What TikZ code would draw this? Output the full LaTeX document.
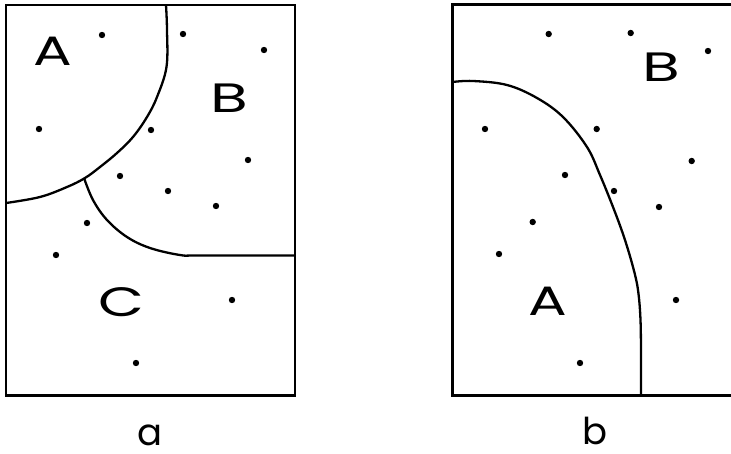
\documentclass[tikz,border=0pt]{standalone}
\usepackage{fontspec}
\setmainfont{Poppins}
\begin{document}
\begin{tikzpicture}[x=1pt,y=-1pt,
  frame/.style={line width=2.4pt},
  border/.style={line width=2.3pt, smooth, tension=0.6},
  dot/.style={fill=black},
  region/.style={inner sep=0pt, font=\fontsize{41}{41}\selectfont},
  caption/.style={inner sep=0pt, font=\fontsize{37}{37}\selectfont}]
\useasboundingbox (0,0) rectangle (731,454);
% ---------- panel a ----------
\draw[frame] (6,5) rectangle (295,395.5);
\draw[border] plot coordinates {(166,5) (167,30) (166.5,67) (157,97) (147,117) (133,137) (117,153) (100,167) (85,178) (67,187) (40,197) (6,203)};
\draw[border] plot coordinates {(84,178) (93,200) (107,220) (127,237) (150,248) (180,255) (200,255.5) (295,255.5)};
\foreach \p in {(102,35),(183,34),(264,50),(39,129),(151,130),(248,160),(120,176),(168,191),(216,206),(87,223),(56,255),(232,300),(136,363)}
  \fill[dot] \p circle (3.2);
\node[region] (aA) at (52.5,51.5) {\scalebox{1.4}[1]{A}};
\node[region] (aB) at (229.5,98.5) {\scalebox{1.5}[1]{B}};
\node[region] (aC) at (121.5,302) {\scalebox{1.45}[1]{C}};
\node[caption] (la) at (150,435) {a};
% ---------- panel b ----------
\draw[frame] (731,4.5) -- (452.5,4.5) -- (452.5,395.5) -- (731,395.5);
\draw[border] plot coordinates {(452.5,82) (473,81) (507,85) (537,98) (563,117) (587,147) (600,175) (613,207) (624,237) (633,267) (638,290) (640.5,320) (641,360) (641,395.5)};
\foreach \p in {(548.7,34),(630.7,33),(708,51),(485,129),(596.7,129),(691.7,161),(565,175),(614,191),(659,207),(532.7,222),(499,254),(676,300),(580,363)}
  \fill[dot] \p circle (3.2);
\node[region] (bB) at (661,67) {\scalebox{1.5}[1]{B}};
\node[region] (bA) at (547.5,301) {\scalebox{1.4}[1]{A}};
\node[caption] (lb) at (595,431) {b};
\end{tikzpicture}
\end{document}
